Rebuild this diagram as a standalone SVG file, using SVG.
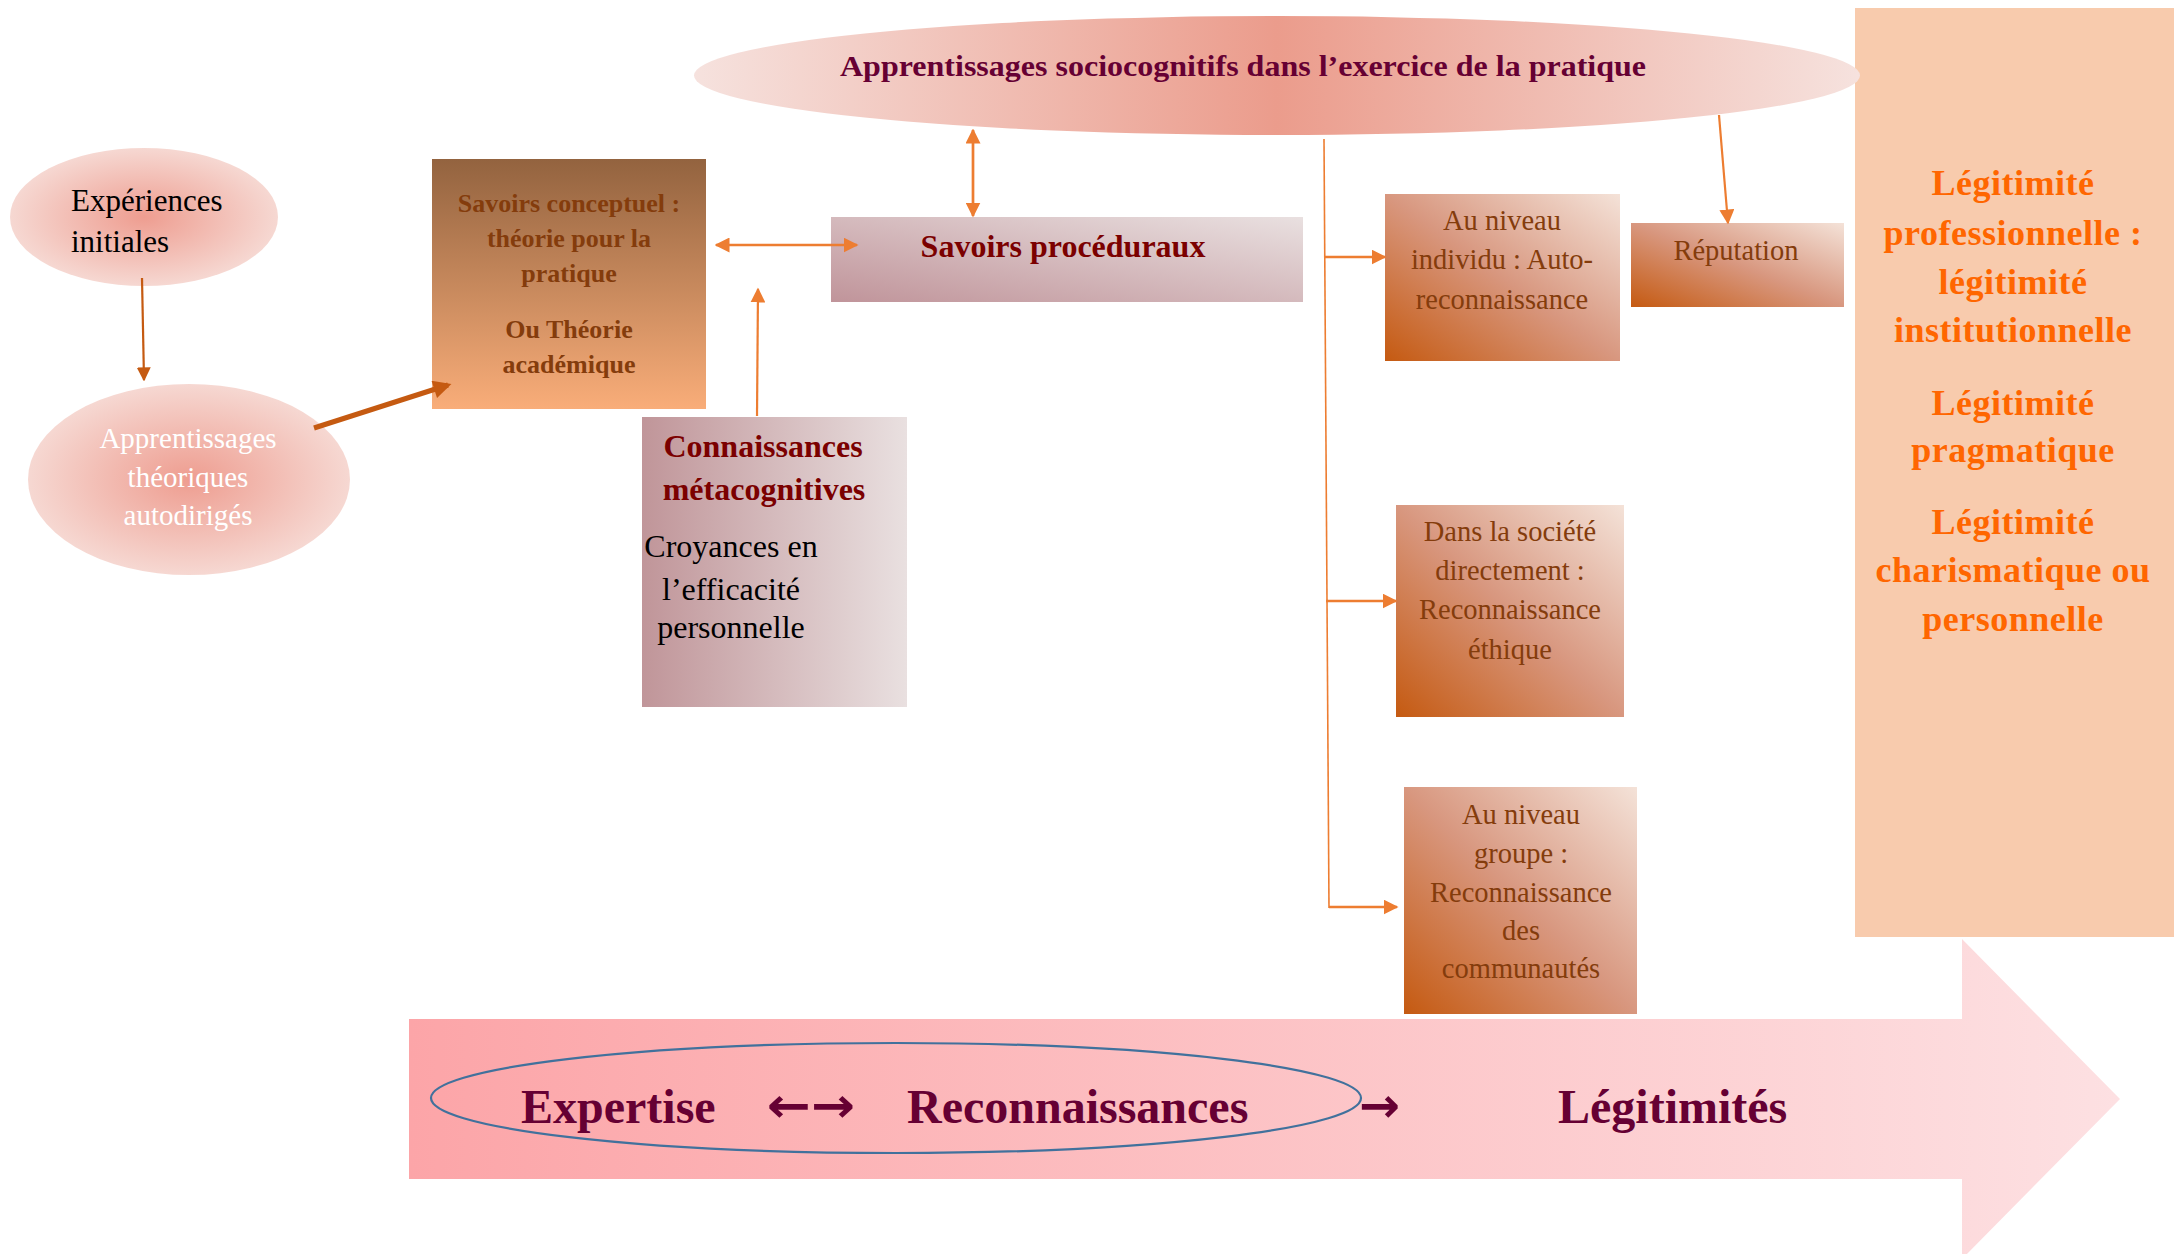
<svg xmlns="http://www.w3.org/2000/svg" width="2174" height="1254" viewBox="0 0 2174 1254">
<style>
.serif{font-family:"Liberation Serif","Times New Roman",serif}
.b{font-weight:bold}
.mid{text-anchor:middle}
.brown{fill:#843c0c}
.leg{font-family:"Liberation Serif",serif;font-weight:bold;font-size:36px;fill:#ff6600;text-anchor:middle;letter-spacing:0.5px}
.big{font-family:"Liberation Serif",serif;font-weight:bold;font-size:48px;fill:#660033}
.arr{font-family:"DejaVu Sans",sans-serif;font-weight:bold;font-size:48px;fill:#660033}
.c-or{stroke:#ed7d31;fill:none}
.c-br{stroke:#c55a11;fill:none}
</style>
<defs>
<linearGradient id="gEll" x1="0" y1="0" x2="1" y2="0">
<stop offset="0" stop-color="#f6e2de"/><stop offset="0.5" stop-color="#eb9c8c"/><stop offset="1" stop-color="#f6e2de"/>
</linearGradient>
<radialGradient id="gEll2" cx="0.5" cy="0.5" r="0.5">
<stop offset="0" stop-color="#ee9d90"/><stop offset="1" stop-color="#f6d8d2"/>
</radialGradient>
<linearGradient id="gConc" x1="0" y1="0" x2="0" y2="1">
<stop offset="0" stop-color="#93633f"/><stop offset="1" stop-color="#f9ad79"/>
</linearGradient>
<linearGradient id="gProc" x1="0" y1="1" x2="1" y2="0">
<stop offset="0" stop-color="#c0949a"/><stop offset="1" stop-color="#e9e0e0"/>
</linearGradient>
<linearGradient id="gMeta" x1="0" y1="0" x2="1" y2="0">
<stop offset="0" stop-color="#c09599"/><stop offset="1" stop-color="#e9e0e0"/>
</linearGradient>
<linearGradient id="gOr" x1="0" y1="1" x2="1" y2="0">
<stop offset="0" stop-color="#c55a11"/><stop offset="0.5" stop-color="#d8977f"/><stop offset="1" stop-color="#f4e2d8"/>
</linearGradient>
<linearGradient id="gArrow" x1="0" y1="0" x2="1" y2="0">
<stop offset="0" stop-color="#fca5a8"/><stop offset="1" stop-color="#fde0e2"/>
</linearGradient>
<marker id="mOr" viewBox="0 0 10 10" refX="9" refY="5" markerUnits="userSpaceOnUse" markerWidth="15" markerHeight="15" orient="auto-start-reverse">
<path d="M0,0 L10,5 L0,10 z" fill="#ed7d31"/>
</marker>
<marker id="mBr" viewBox="0 0 10 10" refX="9" refY="5" markerUnits="userSpaceOnUse" markerWidth="14" markerHeight="14" orient="auto">
<path d="M0,0 L10,5 L0,10 z" fill="#c55a11"/>
</marker>
<marker id="mBr2" viewBox="0 0 10 10" refX="8" refY="5" markerUnits="userSpaceOnUse" markerWidth="20" markerHeight="18" orient="auto">
<path d="M0,0 L10,5 L0,10 z" fill="#c55a11"/>
</marker>
</defs>
<rect width="2174" height="1254" fill="#ffffff"/>

<g id="legitimites-panel">
<rect x="1855" y="8" width="319" height="929" fill="#f8cbad"/>
<text class="leg" x="2013" y="195">Légitimité</text>
<text class="leg" x="2013" y="245">professionnelle :</text>
<text class="leg" x="2013" y="294">légitimité</text>
<text class="leg" x="2013" y="342">institutionnelle</text>
<text class="leg" x="2013" y="415">Légitimité</text>
<text class="leg" x="2013" y="462">pragmatique</text>
<text class="leg" x="2013" y="534">Légitimité</text>
<text class="leg" x="2013" y="582">charismatique ou</text>
<text class="leg" x="2013" y="631">personnelle</text>
</g>

<g id="apprentissages-sociocognitifs">
<ellipse cx="1277" cy="75.5" rx="583" ry="59.5" fill="url(#gEll)"/>
<text class="serif b" x="840" y="76" font-size="30" fill="#660033" textLength="806" lengthAdjust="spacingAndGlyphs">Apprentissages sociocognitifs dans l’exercice de la pratique</text>
</g>

<g id="experiences-initiales">
<ellipse cx="144" cy="217" rx="134" ry="69" fill="url(#gEll2)"/>
<text class="serif" x="71" y="211" font-size="31" fill="#000">Expériences</text>
<text class="serif" x="71" y="252" font-size="31" fill="#000">initiales</text>
</g>

<g id="apprentissages-theoriques">
<ellipse cx="189" cy="479.5" rx="161" ry="95.5" fill="url(#gEll2)"/>
<text class="serif mid" x="188" y="448" font-size="29" fill="#ffffff">Apprentissages</text>
<text class="serif mid" x="188" y="487" font-size="29" fill="#ffffff">théoriques</text>
<text class="serif mid" x="188" y="525" font-size="29" fill="#ffffff">autodirigés</text>
</g>

<g id="savoirs-conceptuel">
<rect x="432" y="159" width="274" height="250" fill="url(#gConc)"/>
<text class="serif b mid brown" x="569" y="212" font-size="26">Savoirs conceptuel :</text>
<text class="serif b mid brown" x="569" y="247" font-size="26">théorie pour la</text>
<text class="serif b mid brown" x="569" y="282" font-size="26">pratique</text>
<text class="serif b mid brown" x="569" y="338" font-size="26">Ou Théorie</text>
<text class="serif b mid brown" x="569" y="373" font-size="26">académique</text>
</g>

<g id="savoirs-proceduraux">
<rect x="831" y="217" width="472" height="85" fill="url(#gProc)"/>
<text class="serif b mid" x="1063" y="257" font-size="32" fill="#7b0000">Savoirs procéduraux</text>
</g>

<g id="connaissances-metacognitives">
<rect x="642" y="417" width="265" height="290" fill="url(#gMeta)"/>
<text class="serif b mid" x="763" y="457" font-size="32" fill="#7b0000">Connaissances</text>
<text class="serif b mid" x="764" y="500" font-size="32" fill="#7b0000">métacognitives</text>
<text class="serif mid" x="731" y="557" font-size="32" fill="#000">Croyances en</text>
<text class="serif mid" x="731" y="600" font-size="32" fill="#000">l’efficacité</text>
<text class="serif mid" x="731" y="638" font-size="32" fill="#000">personnelle</text>
</g>

<g id="au-niveau-individu">
<rect x="1385" y="194" width="235" height="167" fill="url(#gOr)"/>
<text class="serif mid brown" x="1502" y="230" font-size="28.5">Au niveau</text>
<text class="serif mid brown" x="1502" y="269" font-size="28.5">individu : Auto-</text>
<text class="serif mid brown" x="1502" y="309" font-size="28.5">reconnaissance</text>
</g>

<g id="reputation">
<rect x="1631" y="223" width="213" height="84" fill="url(#gOr)"/>
<text class="serif mid brown" x="1736" y="260" font-size="28.5">Réputation</text>
</g>

<g id="dans-la-societe">
<rect x="1396" y="505" width="228" height="212" fill="url(#gOr)"/>
<text class="serif mid brown" x="1510" y="541" font-size="28.5">Dans la société</text>
<text class="serif mid brown" x="1510" y="580" font-size="28.5">directement :</text>
<text class="serif mid brown" x="1510" y="619" font-size="28.5">Reconnaissance</text>
<text class="serif mid brown" x="1510" y="659" font-size="28.5">éthique</text>
</g>

<g id="au-niveau-groupe">
<rect x="1404" y="787" width="233" height="227" fill="url(#gOr)"/>
<text class="serif mid brown" x="1521" y="824" font-size="28.5">Au niveau</text>
<text class="serif mid brown" x="1521" y="863" font-size="28.5">groupe :</text>
<text class="serif mid brown" x="1521" y="902" font-size="28.5">Reconnaissance</text>
<text class="serif mid brown" x="1521" y="940" font-size="28.5">des</text>
<text class="serif mid brown" x="1521" y="978" font-size="28.5">communautés</text>
</g>

<g id="progression-arrow">
<path d="M409,1019 L1962,1019 L1962,939 L2120,1099 L1962,1259 L1962,1179 L409,1179 z" fill="url(#gArrow)"/>
<ellipse cx="896" cy="1098" rx="465" ry="55" fill="none" stroke="#41719c" stroke-width="2.2"/>
<text class="big" x="521" y="1123">Expertise</text>
<text class="arr" x="767" y="1122" textLength="88" lengthAdjust="spacingAndGlyphs">←→</text>
<text class="big" x="907" y="1123">Reconnaissances</text>
<text class="arr" x="1359" y="1122" textLength="41" lengthAdjust="spacingAndGlyphs">→</text>
<text class="big" x="1558" y="1123">Légitimités</text>
</g>

<g id="connectors">
<line class="c-br" x1="142" y1="278" x2="144" y2="380" stroke-width="2.2" marker-end="url(#mBr)"/>
<line class="c-br" x1="314" y1="428" x2="448" y2="385" stroke-width="5" marker-end="url(#mBr2)"/>
<line class="c-or" x1="716" y1="245" x2="857" y2="245" stroke-width="2.7" marker-start="url(#mOr)" marker-end="url(#mOr)"/>
<line class="c-or" x1="973" y1="130" x2="973" y2="216" stroke-width="2.7" marker-start="url(#mOr)" marker-end="url(#mOr)"/>
<line class="c-or" x1="757" y1="416" x2="758" y2="289" stroke-width="2.2" marker-end="url(#mOr)"/>
<line class="c-or" x1="1324" y1="139" x2="1329" y2="908" stroke-width="1.6"/>
<line class="c-or" x1="1324" y1="257" x2="1385" y2="257" stroke-width="2.7" marker-end="url(#mOr)"/>
<line class="c-or" x1="1326" y1="601" x2="1396" y2="601" stroke-width="2.7" marker-end="url(#mOr)"/>
<line class="c-or" x1="1329" y1="907" x2="1397" y2="907" stroke-width="2.7" marker-end="url(#mOr)"/>
<line class="c-or" x1="1719" y1="115" x2="1728" y2="223" stroke-width="2.2" marker-end="url(#mOr)"/>
</g>
</svg>
